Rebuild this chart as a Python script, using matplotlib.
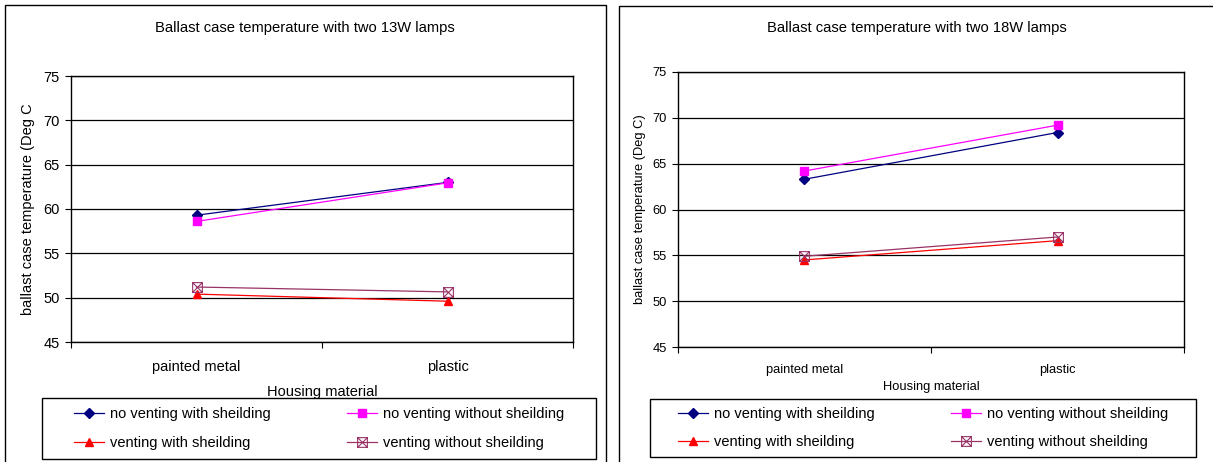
import matplotlib
matplotlib.use("Agg")
import matplotlib.pyplot as plt
from matplotlib.path import Path
from matplotlib.patches import Rectangle

plt.rcParams['font.family'] = ['Liberation Sans', 'DejaVu Sans']

categories = ["painted metal", "plastic"]
series_names = ["no venting with sheilding", "no venting without sheilding",
                "venting with sheilding", "venting without sheilding"]
vals_13w = {
    "no venting with sheilding": [59.3, 63.0],
    "no venting without sheilding": [58.6, 62.95],
    "venting with sheilding": [50.4, 49.6],
    "venting without sheilding": [51.2, 50.65],
}
vals_18w = {
    "no venting with sheilding": [63.3, 68.4],
    "no venting without sheilding": [64.2, 69.2],
    "venting with sheilding": [54.5, 56.6],
    "venting without sheilding": [54.9, 57.0],
}
yticks = [45, 50, 55, 60, 65, 70, 75]

W, H = 1213, 462
fig = plt.figure(figsize=(W / 100, H / 100), dpi=100)

boxx = Path([(-1, -1), (1, -1), (1, 1), (-1, 1), (-1, -1), (1, 1), (-1, 1), (1, -1)],
            [Path.MOVETO, Path.LINETO, Path.LINETO, Path.LINETO, Path.LINETO,
             Path.LINETO, Path.MOVETO, Path.LINETO])

styles = {
    "no venting with sheilding": dict(color="#000080", marker="D", ms=5, mfc="#000080", mec="#000080"),
    "no venting without sheilding": dict(color="#FF00FF", marker="s", ms=5.2, mfc="#FF00FF", mec="#FF00FF"),
    "venting with sheilding": dict(color="#FF0000", marker="^", ms=6, mfc="#FF0000", mec="#FF0000"),
    "venting without sheilding": dict(color="#993366", marker=boxx, ms=7, mfc="none", mec="#993366", mew=0.8),
}


def px_rect(x0, y0, x1, y1):
    return [x0 / W, 1 - y1 / H, (x1 - x0) / W, (y1 - y0) / H]


def panel(frame, axbox, data, title, title_xy, ylabel, ylabel_x, fs_tick, fs_y, fs_title,
          xl_y, xpad, legbox, legfs, colsp):
    fx0, fy0, fx1, fy1 = frame
    fig.patches.append(Rectangle((fx0 / W, 1 - fy1 / H), (fx1 - fx0) / W, (fy1 - fy0) / H,
                                 transform=fig.transFigure, fill=False, ec="black", lw=1.0))
    ax = fig.add_axes(px_rect(*axbox))
    x = list(range(len(categories)))
    handles = {}
    for name in series_names:
        ln, = ax.plot(x, data[name], lw=0.9, label=name, **styles[name])
        handles[name] = ln
    ax.set_xlim(-0.5, len(categories) - 0.5)
    ax.set_ylim(yticks[0], yticks[-1])
    ax.set_yticks(yticks)
    ax.yaxis.grid(True, color="black", lw=0.9)
    ax.set_axisbelow(True)
    ax.set_xticks([-0.5, 0.5, 1.5])
    ax.set_xticklabels([])
    ax.set_xticks(x, minor=True)
    ax.set_xticklabels(categories, minor=True, fontsize=fs_tick)
    ax.tick_params(axis="x", which="minor", length=0, pad=xpad)
    ax.tick_params(axis="x", which="major", length=4, direction="out")
    ax.tick_params(axis="y", length=4, direction="out", labelsize=fs_tick, pad=4)
    for s in ax.spines.values():
        s.set_color("black")
        s.set_linewidth(1.0)
    ymid = (axbox[1] + axbox[3]) / 2
    fig.text(ylabel_x / W, 1 - ymid / H, ylabel, rotation=90, ha="center", va="center",
             fontsize=fs_y)
    fig.text(title_xy[0] / W, 1 - title_xy[1] / H, title, ha="center", va="center", fontsize=fs_title)
    fig.text((axbox[0] + axbox[2]) / 2 / W, 1 - xl_y / H, "Housing material", ha="center",
             va="center", fontsize=fs_y)
    lx0, ly0, lx1, ly1 = legbox
    fig.patches.append(Rectangle((lx0 / W, 1 - ly1 / H), (lx1 - lx0) / W, (ly1 - ly0) / H,
                                 transform=fig.transFigure, fc="white", ec="black", lw=1.0, zorder=5))
    order = [series_names[0], series_names[2], series_names[1], series_names[3]]
    leg = fig.legend([handles[n] for n in order], order, loc="center",
                     bbox_to_anchor=((lx0 + lx1) / 2 / W, 1 - (ly0 + ly1) / 2 / H),
                     ncol=2, frameon=False, fontsize=legfs, handlelength=2.1,
                     handletextpad=0.4, columnspacing=colsp, labelspacing=1.0,
                     borderpad=0.2)
    leg.set_zorder(6)
    return ax


panel(frame=(5, 5, 606, 470), axbox=(71, 76, 573, 342), data=vals_13w,
      title="Ballast case temperature with two 13W lamps", title_xy=(305, 28),
      ylabel="ballast case temperature (Deg C", ylabel_x=28, fs_tick=10.5, fs_y=10.5, fs_title=10.6,
      xl_y=392, xpad=13, legbox=(42, 398, 596, 459), legfs=10.5, colsp=5.2)

panel(frame=(619, 6, 1220, 470), axbox=(678, 72, 1184, 347), data=vals_18w,
      title="Ballast case temperature with two 18W lamps", title_xy=(917, 28),
      ylabel="ballast case temperature (Deg C)", ylabel_x=640, fs_tick=9.3, fs_y=9.3, fs_title=10.6,
      xl_y=387, xpad=12, legbox=(650, 399, 1196, 457), legfs=10.5, colsp=5.2)

fig.savefig("out.png", dpi=100)
